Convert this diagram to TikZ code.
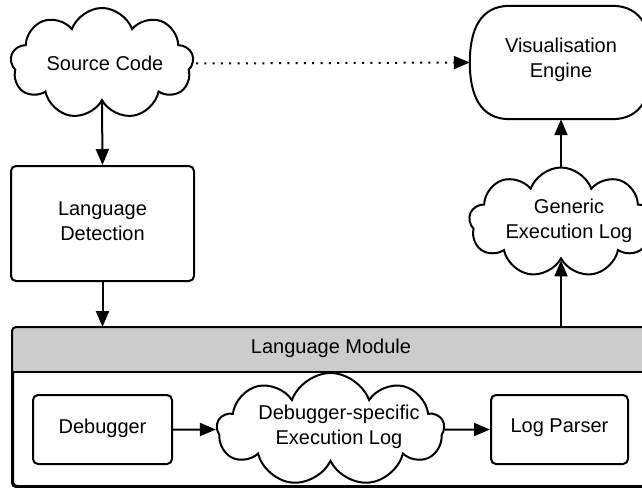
\documentclass[tikz,border=0pt]{standalone}
\usepackage{fontspec}
\setmainfont{Liberation Sans}
\usetikzlibrary{shapes.symbols,arrows.meta,calc}
\definecolor{headgray}{HTML}{CCCCCC}
\begin{document}
\begin{tikzpicture}[x=1pt,y=-1pt,
  lw/.style={line width=2pt},
  cloudbox/.style={cloud, cloud puffs=9, cloud puff arc=140, shape border rotate=180, cloud ignores aspect, draw, line width=2pt, fill=white, inner sep=0pt},
  procbox/.style={draw, line width=2pt, rounded corners=5pt, fill=white, inner sep=0pt},
  lbl/.style={font=\fontsize{20}{25}\selectfont, align=center, inner sep=0pt},
  arr/.style={line width=2pt, -{Triangle[length=16pt,width=13pt]}},
  dotarr/.style={line width=2pt, dash pattern=on 2pt off 6.3pt, -{Triangle[length=16pt,width=13pt]}},
]
\useasboundingbox (0,0) rectangle (642,487);
\clip (0,0) rectangle (642,487);
% Language module container
\node[draw, lw, rounded corners=4pt, fill=white, minimum width=668pt, minimum height=158pt, anchor=north west, inner sep=0pt] (module) at (12,327) {};
\path[fill=headgray] (12,372) [rounded corners=4pt] -- (12,327) -- (690,327) [sharp corners] -- (690,372) -- cycle;
\draw[lw, rounded corners=4pt] (module.south west) rectangle (module.north east);
\draw[lw] (12,372) -- (690,372);
\node[lbl] (modlbl) at (331,348) {Language Module};

% Source code cloud
\node[cloudbox, minimum width=183pt, minimum height=111pt] (sc) at (102,63.5) {};
\node[lbl] (sclbl) at (105,63) {Source Code};

% Language detection
\node[procbox, minimum width=183pt, minimum height=115pt] (ld) at (102.5,223.5) {};
\node[lbl] (ldlbl) at (102.5,221) {Language\\Detection};

% Visualisation engine
\node[minimum width=182pt, minimum height=113pt, inner sep=0pt] (ve) at (561,62.5) {};
\draw[lw, fill=white] ($(ve.north west)+(40,0)$) -- ($(ve.north east)+(-40,0)$)
  .. controls ($(ve.north east)+(-10,0)$) and ($(ve.east)+(0,-32)$) .. (ve.east)
  .. controls ($(ve.east)+(0,32)$) and ($(ve.south east)+(-10,0)$) .. ($(ve.south east)+(-40,0)$)
  -- ($(ve.south west)+(40,0)$)
  .. controls ($(ve.south west)+(10,0)$) and ($(ve.west)+(0,32)$) .. (ve.west)
  .. controls ($(ve.west)+(0,-32)$) and ($(ve.north west)+(10,0)$) .. ($(ve.north west)+(40,0)$) -- cycle;
\node[lbl] (velbl) at (561,60) {Visualisation\\Engine};

% Generic execution log cloud
\node[cloudbox, minimum width=184pt, minimum height=110pt] (gen) at (561,222.5) {};
\node[lbl] (genlbl) at (569,221) {Generic\\Execution Log};

% Inner boxes
\node[procbox, minimum width=139pt, minimum height=69pt] (dbg) at (102.5,429.5) {};
\node[lbl] (dbglbl) at (102.5,428) {Debugger};
\node[cloudbox, minimum width=227pt, minimum height=113pt] (dsc) at (330.5,429.5) {};
\node[lbl] (dsclbl) at (339,427) {Debugger-specific\\Execution Log};
\node[procbox, minimum width=137pt, minimum height=69pt] (lp) at (559.5,429.5) {};
\node[lbl] (lplbl) at (559.5,428) {Log Parser};

% Connectors
\coordinate (dotstart) at (196,63.5);
\draw[dotarr] (dotstart) -- (ve.west);
\draw[arr] (sc.south) -- (ld.north);
\draw[arr] (ld.south) -- (ld.south |- module.north);
\draw[arr] (gen.south |- module.north) -- (gen.south);
\draw[arr] (gen.north) -- (ve.south);
\draw[arr] (dbg.east) -- (dsc.west);
\draw[arr] (dsc.east) -- (lp.west);
\end{tikzpicture}
\end{document}
